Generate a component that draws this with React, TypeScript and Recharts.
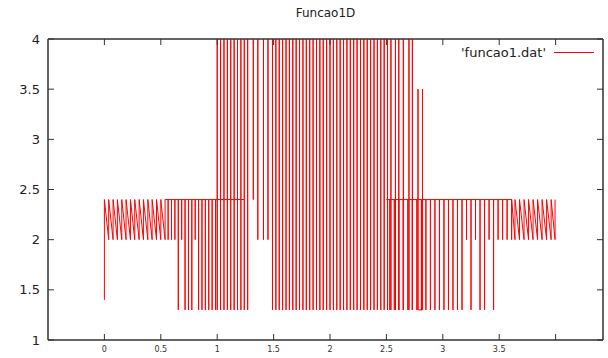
import { LineChart, Line, XAxis, YAxis, ReferenceArea } from 'recharts'

const titleText = 'Funcao1D'
const legendLabel = "'funcao1.dat'"

const xTicks = [0, 0.5, 1, 1.5, 2, 2.5, 3, 3.5, 4]
const yTicks = [1, 1.5, 2, 2.5, 3, 3.5, 4]
const xDomain: [number, number] = [-0.5, 4.42]
const yDomain: [number, number] = [1, 4]

// left sawtooth between 2.0 and 2.4, starting from a drop to 1.4 at x=0
const zigStartY = 1.4
const zigLow = 2.0
const zigHigh = 2.4
const zigLeftX = [0, 0.038, 0.077, 0.115, 0.154, 0.192, 0.231, 0.269, 0.308, 0.346, 0.385, 0.423, 0.462, 0.5, 0.538]

// downward spikes hanging from 2.4
const s1X = [0.565, 0.595, 0.625, 0.655, 0.685, 0.715, 0.745, 0.775, 0.805, 0.835, 0.865, 0.895, 0.925, 0.955, 0.985]
const s1Low = [2.0, 2.0, 2.0, 1.3, 2.0, 1.3, 1.3, 1.3, 2.0, 1.3, 1.3, 1.3, 1.3, 1.3, 1.3]

// full height spikes still joined along 2.4
const s2X = [1.0, 1.03, 1.06, 1.09, 1.12, 1.15, 1.18, 1.21, 1.24]
const s2Top = 4.05
const s2Low = 1.3

// spikes hanging from above the top edge (clipped there)
const gapX = [1.27, 1.32, 1.36, 1.41, 1.45]
const gapLow = [1.3, 2.4, 2.0, 2.0, 2.0]
const s3X = [
  1.49, 1.52, 1.55, 1.58, 1.61, 1.64, 1.67, 1.7, 1.73, 1.76, 1.79, 1.82, 1.85, 1.88,
  1.91, 1.94, 1.97, 2.0, 2.03, 2.06, 2.09, 2.12, 2.15, 2.18, 2.21, 2.24, 2.27, 2.3,
  2.33, 2.36, 2.39, 2.42, 2.45, 2.48, 2.51, 2.54, 2.58, 2.61, 2.65, 2.7, 2.73,
]
const s3Low = 1.3

// two shorter spikes reaching 3.5
const s4X = [2.78, 2.82]
const s4High = [3.5, 3.5]
const s4Low = 1.3

// right block: spikes hanging from 2.4 then a sawtooth
const s5Start = 2.5
const s5X = [
  2.53, 2.57, 2.61, 2.65, 2.69, 2.73, 2.77, 2.81, 2.85, 2.89, 2.93, 2.97, 3.01, 3.05,
  3.09, 3.13, 3.17, 3.21, 3.25, 3.29, 3.33, 3.37, 3.41, 3.45, 3.49, 3.53, 3.57, 3.61,
]
const s5Low = [
  1.3, 1.3, 1.3, 1.3, 1.3, 1.3, 1.3, 1.3, 1.3, 1.3, 1.3, 1.3, 1.3, 1.3,
  1.3, 1.3, 1.3, 2.0, 1.3, 2.0, 1.3, 1.3, 2.0, 1.3, 2.0, 2.0, 2.0, 2.0,
]
const zigRightX = [3.64, 3.68, 3.72, 3.76, 3.8, 3.84, 3.88, 3.92, 3.96, 3.995]

interface Pt {
  x: number
  y: number | null
}

function buildData(): Pt[] {
  const pts: Pt[] = []
  const gap = () => pts.push({ x: pts[pts.length - 1].x, y: null })

  // segment A
  pts.push({ x: zigLeftX[0], y: zigStartY }, { x: zigLeftX[0], y: zigHigh })
  zigLeftX.slice(1).forEach(x => {
    pts.push({ x, y: zigLow }, { x, y: zigHigh })
  })
  s1X.forEach((x, i) => {
    pts.push({ x, y: zigHigh }, { x, y: s1Low[i] }, { x, y: zigHigh })
  })
  s2X.forEach(x => {
    pts.push({ x, y: zigHigh }, { x, y: s2Top }, { x, y: s2Low }, { x, y: zigHigh })
  })
  gap()

  // segment B
  gapX.forEach((x, i) => {
    pts.push({ x, y: s2Top }, { x, y: gapLow[i] }, { x, y: s2Top })
  })
  s3X.forEach(x => {
    pts.push({ x, y: s2Top }, { x, y: s3Low }, { x, y: s2Top })
  })
  gap()

  // segment C
  s4X.forEach((x, i) => {
    pts.push({ x, y: s4Low }, { x, y: s4High[i] }, { x, y: s4Low })
  })
  gap()

  // segment D
  pts.push({ x: s5Start, y: zigHigh })
  s5X.forEach((x, i) => {
    pts.push({ x, y: zigHigh }, { x, y: s5Low[i] }, { x, y: zigHigh })
  })
  zigRightX.forEach(x => {
    pts.push({ x, y: zigLow }, { x, y: zigHigh })
  })
  return pts
}

const data = buildData()

const font = '"DejaVu Sans", Verdana, sans-serif'
const axisColor = '#333'

export default function App() {
  return (
    <div style={{ position: 'absolute', left: 0, top: 0, width: 608, height: 358, fontFamily: font }}>
      <div
        style={{
          position: 'absolute',
          left: 48,
          width: 555,
          top: 6,
          textAlign: 'center',
          fontSize: 12,
          color: '#222',
        }}
      >
        {titleText}
      </div>
      <div
        style={{
          position: 'absolute',
          right: 14,
          top: 45,
          display: 'flex',
          alignItems: 'center',
          fontSize: 13,
          color: '#222',
          zIndex: 2,
        }}
      >
        <span>{legendLabel}</span>
        <span style={{ display: 'inline-block', width: 40, height: 1, background: '#ff0000', marginLeft: 8 }} />
      </div>
      <LineChart width={608} height={358} data={data} margin={{ top: 39, right: 5, left: 0, bottom: 0 }}>
        <XAxis
          xAxisId="bottom"
          dataKey="x"
          type="number"
          domain={xDomain}
          allowDataOverflow
          ticks={xTicks}
          tickFormatter={(v: number) => (v === 4 ? '' : String(v))}
          height={18}
          tickSize={-6}
          tickMargin={12}
          stroke={axisColor}
          tick={{ fontSize: 8, fill: '#333', fontFamily: font }}
        />
        <XAxis
          xAxisId="top"
          orientation="top"
          dataKey="x"
          type="number"
          domain={xDomain}
          allowDataOverflow
          ticks={xTicks}
          tickFormatter={() => ''}
          mirror
          tickSize={6}
          stroke={axisColor}
        />
        <YAxis
          yAxisId="left"
          type="number"
          domain={yDomain}
          allowDataOverflow
          ticks={yTicks}
          width={48}
          tickSize={-6}
          tickMargin={14}
          stroke={axisColor}
          tick={{ fontSize: 13, fill: '#222', fontFamily: font }}
        />
        <YAxis
          yAxisId="right"
          orientation="right"
          type="number"
          domain={yDomain}
          allowDataOverflow
          ticks={yTicks}
          tickFormatter={() => ''}
          mirror
          tickSize={6}
          stroke={axisColor}
        />
        <ReferenceArea
          xAxisId="bottom"
          yAxisId="left"
          x1={xDomain[0]}
          x2={xDomain[1]}
          y1={yDomain[0]}
          y2={yDomain[1]}
          fill="none"
          fillOpacity={0}
          stroke={axisColor}
          strokeWidth={1}
          ifOverflow="visible"
        />
        <Line
          xAxisId="bottom"
          yAxisId="left"
          type="linear"
          dataKey="y"
          stroke="#ff0000"
          strokeWidth={1}
          dot={false}
          activeDot={false}
          connectNulls={false}
          isAnimationActive={false}
        />
      </LineChart>
    </div>
  )
}
